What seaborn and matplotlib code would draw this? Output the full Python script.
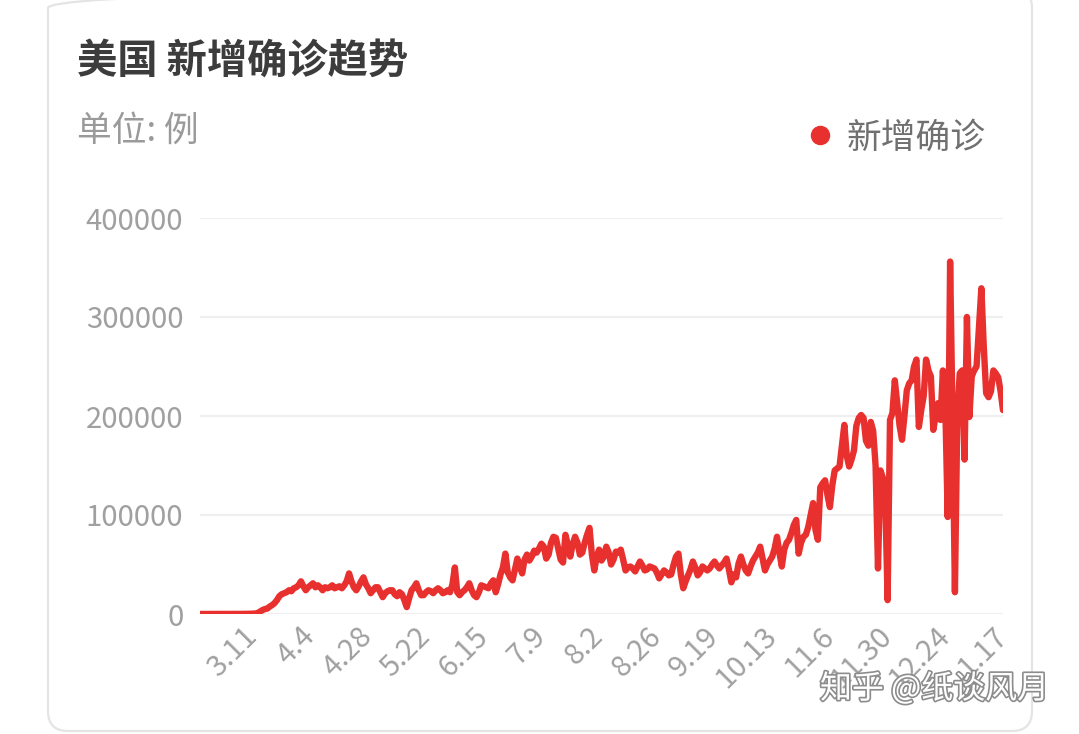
import numpy as np
import pandas as pd
import matplotlib
matplotlib.use("Agg")
import matplotlib.pyplot as plt
import seaborn as sns
from matplotlib.lines import Line2D
from matplotlib.patches import FancyBboxPatch
import matplotlib.patheffects as pe

# ---------------- data (daily new confirmed cases, USA) ----------------
start_date = "2020-02-18"
feb = [0, 0, 0, 0, 1, 0, 0, 0, 0, 3, 2, 8]
mar = [15, 20, 25, 35, 60, 70, 110, 120, 150, 250, 400, 500, 1000, 2500, 4000, 5000,
       5500, 7500, 9000, 11000, 14000, 18000, 20000, 21000, 22000, 24000, 23000, 26000,
       27000, 29000, 33000]
apr = [28000, 24000, 27000, 29000, 31000, 27000, 29000, 27000, 24000, 27000, 26000, 27000,
       29000, 26000, 27000, 28000, 26000, 29000, 33000, 41000, 33000, 27000, 24000, 28000,
       33000, 37000, 30000, 26000, 21000, 24000]
may = [27000, 27000, 22000, 17000, 21000, 23000, 24000, 24000, 20000, 18000, 22000, 20000,
       14000, 7000, 16000, 24000, 27000, 31000, 24000, 19000, 19000, 22000, 24000, 23000,
       21000, 24000, 26000, 24000, 21000, 22000, 24000]
jun = [22000, 30000, 47000, 22000, 19000, 22000, 24000, 27000, 31000, 24000, 19000, 17000,
       22000, 29000, 28000, 27000, 26000, 31000, 34000, 22000, 30000, 40000, 47000, 61000,
       42000, 37000, 34000, 45000, 56000, 48000]
jul = [41000, 55000, 60000, 54000, 58000, 64000, 62000, 66000, 71000, 68000, 56000, 60000,
       72000, 78000, 77000, 66000, 55000, 52000, 80000, 70000, 58000, 70000, 78000, 72000,
       60000, 62000, 72000, 80000, 87000, 60000, 44000]
aug = [58000, 65000, 54000, 58000, 68000, 62000, 50000, 55000, 63000, 62000, 65000, 55000,
       44000, 47000, 48000, 46000, 43000, 48000, 53000, 49000, 44000, 45000, 48000, 47000,
       46000, 42000, 36000, 40000, 44000, 42000, 39000]
sep = [40000, 50000, 58000, 61000, 40000, 26000, 33000, 39000, 45000, 53000, 47000, 39000,
       42000, 48000, 46000, 44000, 46000, 50000, 53000, 49000, 46000, 49000, 52000, 56000,
       45000, 32000, 40000, 37000, 51000, 58000]
oct_ = [50000, 44000, 41000, 48000, 54000, 58000, 62000, 68000, 56000, 44000, 50000, 54000,
        58000, 66000, 78000, 62000, 48000, 65000, 72000, 75000, 82000, 90000, 95000, 61000,
        72000, 78000, 80000, 88000, 100000, 112000, 85000]
nov = [75000, 128000, 132000, 135000, 120000, 108000, 130000, 145000, 147000, 149000,
       170000, 191000, 160000, 149000, 156000, 165000, 190000, 198000, 201000, 198000,
       175000, 170000, 194000, 185000, 150000, 46000, 145000, 138000, 120000, 14000]
dec = [196000, 203000, 236000, 213000, 190000, 176000, 200000, 226000, 233000, 236000,
       250000, 257000, 189000, 206000, 220000, 257000, 246000, 240000, 186000, 200000,
       213000, 196000, 246000, 210000, 98000, 356000, 200000, 22000, 200000, 243000, 246000]
jan = [156000, 300000, 199000, 240000, 246000, 250000, 290000, 329000, 270000, 223000,
       219000, 225000, 246000, 243000, 239000, 225000, 206000]

tick_labels = ["3.11", "4.4", "4.28", "5.22", "6.15", "7.9", "8.2", "8.26",
               "9.19", "10.13", "11.6", "11.30", "12.24", "1.17"]
y_ticks = [0, 100000, 200000, 300000, 400000]

title = "美国 新增确诊趋势"
unit = "单位: 例"
series_name = "新增确诊"
watermark = "知乎 @纸谈风月"

values = feb + mar + apr + may + jun + jul + aug + sep + oct_ + nov + dec + jan
dates = pd.date_range(start_date, periods=len(values), freq="D")
date_labels = [f"{d.month}.{d.day}" for d in dates]
df = pd.DataFrame({"idx": np.arange(len(values)), "date": date_labels, "cases": values})
tick_pos = [date_labels.index(t) for t in tick_labels]

# ---------------- style ----------------
RED = "#E8312F"
GRID = "#EFEFEF"
TICK = "#A0A0A0"

sns.set_theme(style="white")
plt.rcParams['font.family'] = ['Noto Sans CJK SC', 'DejaVu Sans']

W, H = 1079, 734
fig = plt.figure(figsize=(W / 100, H / 100), dpi=100)
fig.patch.set_facecolor("white")

# card border (top edge just above the visible area)
card = FancyBboxPatch((48, 3), 984, 743, boxstyle="round,pad=0,rounding_size=20",
                      transform=None, fill=False, edgecolor="#E4E4E4", linewidth=1.6)
fig.patches.append(card)

ax = fig.add_axes([200 / W, 120 / H, 803 / W, 396 / H])
ax.set_facecolor("none")
for yv in y_ticks:
    ax.axhline(yv, color=GRID, linewidth=1.6, zorder=0)

sns.lineplot(data=df, x="idx", y="cases", ax=ax, color=RED, linewidth=4.6,
             solid_joinstyle="round", solid_capstyle="round", legend=False, zorder=3)

ax.set_xlim(0, len(values) - 1)
ax.set_ylim(0, 400000)
ax.set_yticks(y_ticks)
ax.set_yticklabels([str(v) for v in y_ticks])
ax.set_xticks(tick_pos)
ax.set_xticklabels(tick_labels)
ax.set_xlabel("")
ax.set_ylabel("")
for s in ax.spines.values():
    s.set_visible(False)
ax.tick_params(axis="y", length=0, pad=12, labelsize=21, labelcolor=TICK)
ax.tick_params(axis="x", length=0, pad=13, labelsize=21, labelcolor=TICK)
for lbl in ax.get_xticklabels():
    lbl.set_rotation(45)
    lbl.set_ha("right")
    lbl.set_va("center")
    lbl.set_rotation_mode("anchor")

# titles
fig.text(77 / W, 1 - 61 / H, title, fontsize=29, fontweight="bold", color="#3C3C3C",
         ha="left", va="center")
fig.text(77 / W, 1 - 131 / H, unit, fontsize=25, color="#9A9A9A", ha="left", va="center")

# legend
handle = Line2D([], [], marker="o", linestyle="", color=RED, markersize=13)
fig.legend([handle], [series_name], loc="center left",
           bbox_to_anchor=(803 / W, 1 - 138 / H), frameon=False, fontsize=25,
           labelcolor="#707070", handletextpad=0.25, borderaxespad=0, borderpad=0,
           handlelength=1.0)

# watermark
fig.text(820 / W, 1 - 689 / H, watermark, fontsize=23, color="white", ha="left", va="center",
         path_effects=[pe.withStroke(linewidth=2.4, foreground="#8C8C8C")], zorder=10)

fig.savefig("out.png", dpi=100)
